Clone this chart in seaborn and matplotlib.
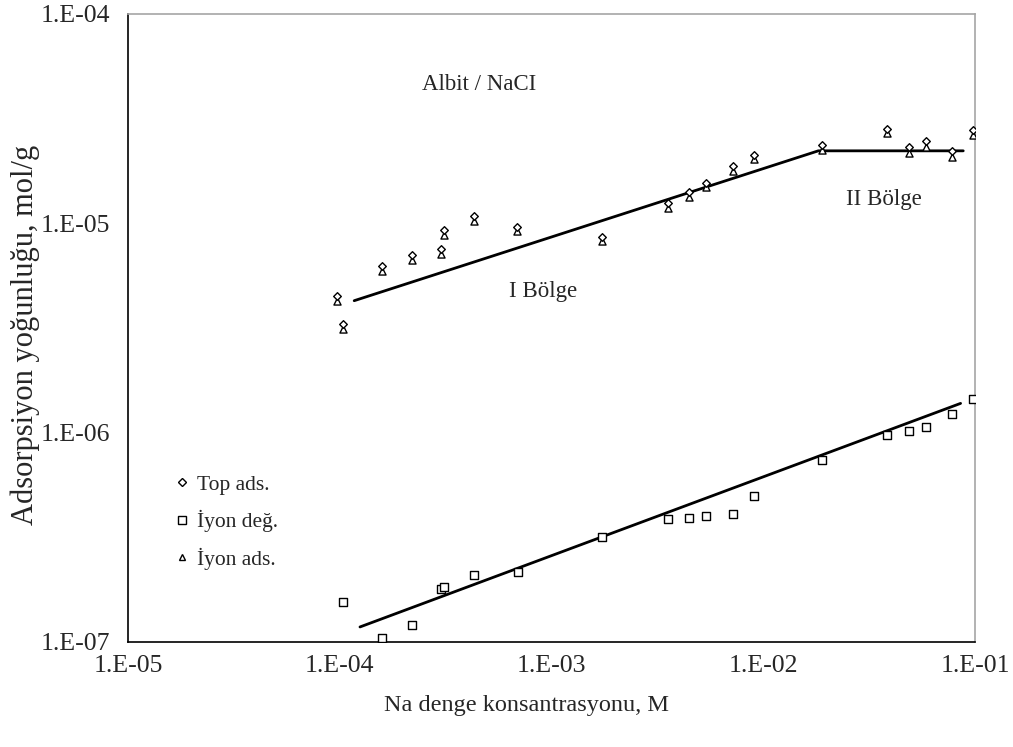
import numpy as np
import pandas as pd
import matplotlib
matplotlib.use("Agg")
import matplotlib.pyplot as plt
import seaborn as sns
from matplotlib.ticker import LogLocator, FuncFormatter, NullFormatter, FixedLocator
from matplotlib.lines import Line2D

# ---- data ----
conc_upper = [9.73e-5, 1.04e-4, 1.59e-4, 2.2e-4, 3.0e-4, 3.12e-4, 4.32e-4, 6.9e-4,
              1.73e-3, 3.55e-3, 4.46e-3, 5.37e-3, 7.2e-3, 9.04e-3, 1.9e-2,
              3.86e-2, 4.9e-2, 5.89e-2, 7.82e-2, 9.82e-2]
top_ads = [4.5e-6, 3.3e-6, 6.25e-6, 7.05e-6, 7.5e-6, 9.25e-6, 1.083e-5, 9.65e-6,
           8.63e-6, 1.255e-5, 1.41e-5, 1.56e-5, 1.875e-5, 2.13e-5, 2.36e-5,
           2.83e-5, 2.31e-5, 2.47e-5, 2.21e-5, 2.79e-5]
iyon_ads = [4.27e-6, 3.13e-6, 5.95e-6, 6.7e-6, 7.12e-6, 8.8e-6, 1.03e-5, 9.17e-6,
            8.2e-6, 1.19e-5, 1.34e-5, 1.485e-5, 1.78e-5, 2.03e-5, 2.24e-5,
            2.69e-5, 2.17e-5, 2.31e-5, 2.07e-5, 2.65e-5]
conc_lower = [1.04e-4, 1.59e-4, 2.2e-4, 3.0e-4, 3.12e-4, 4.32e-4, 6.92e-4,
              1.73e-3, 3.55e-3, 4.46e-3, 5.37e-3, 7.2e-3, 9.04e-3, 1.9e-2,
              3.86e-2, 4.9e-2, 5.89e-2, 7.82e-2, 9.82e-2]
iyon_deg = [1.545e-7, 1.047e-7, 1.21e-7, 1.79e-7, 1.84e-7, 2.09e-7, 2.15e-7,
            3.17e-7, 3.85e-7, 3.91e-7, 4.01e-7, 4.11e-7, 5.0e-7, 7.4e-7,
            9.7e-7, 1.02e-6, 1.06e-6, 1.23e-6, 1.45e-6]
# fitted lines
fit_upper_x = [1.17e-4, 1.82e-2, 8.8e-2]
fit_upper_y = [4.27e-6, 2.22e-5, 2.22e-5]
fit_lower_x = [1.246e-4, 8.55e-2]
fit_lower_y = [1.18e-7, 1.38e-6]

x_ticks = [1e-5, 1e-4, 1e-3, 1e-2, 1e-1]
y_ticks = [1e-7, 1e-6, 1e-5, 1e-4]

sns.set_style("white")
plt.rcParams['font.family'] = ['Liberation Serif', 'DejaVu Serif']

fig = plt.figure(figsize=(10.13, 7.47), dpi=100)
ax = fig.add_axes([128/1013, 105/747, (975-128)/1013, (642-14)/747])
ax.set_xscale('log')
ax.set_yscale('log')

df_up = pd.DataFrame({'x': conc_upper, 'top': top_ads, 'ion': iyon_ads})
df_lo = pd.DataFrame({'x': conc_lower, 'deg': iyon_deg})

sns.lineplot(x=fit_upper_x, y=fit_upper_y, ax=ax, color='black', lw=2.0, sort=False, estimator=None)
sns.lineplot(x=fit_lower_x, y=fit_lower_y, ax=ax, color='black', lw=2.0, sort=False, estimator=None)

sns.scatterplot(data=df_up, x='x', y='ion', ax=ax, marker='^', s=26,
                facecolor='white', edgecolor='black', linewidth=1.0, zorder=3)
sns.scatterplot(data=df_up, x='x', y='top', ax=ax, marker='D', s=15,
                facecolor='white', edgecolor='black', linewidth=1.0, zorder=4)
sns.scatterplot(data=df_lo, x='x', y='deg', ax=ax, marker='s', s=28,
                facecolor='white', edgecolor='black', linewidth=1.0, zorder=3)

ax.set_xlim(1e-5, 1e-1)
ax.set_ylim(1e-7, 1e-4)

fmt = FuncFormatter(lambda v, p: "1.E-%02d" % round(-np.log10(v)))
ax.xaxis.set_major_locator(FixedLocator(x_ticks))
ax.yaxis.set_major_locator(FixedLocator(y_ticks))
ax.xaxis.set_major_formatter(fmt)
ax.yaxis.set_major_formatter(fmt)
ax.xaxis.set_minor_locator(LogLocator(base=10, subs=np.arange(2, 10), numticks=20))
ax.yaxis.set_minor_locator(LogLocator(base=10, subs=np.arange(2, 10), numticks=20))
ax.xaxis.set_minor_formatter(NullFormatter())
ax.yaxis.set_minor_formatter(NullFormatter())
ax.tick_params(which='both', direction='in', length=6, width=1.0, color='black',
               top=False, right=False, labelsize=18.5)
ax.tick_params(axis='x', which='major', pad=9)
ax.tick_params(axis='y', which='major', pad=13)

for s in ['left', 'bottom']:
    ax.spines[s].set_color('black')
    ax.spines[s].set_linewidth(1.2)
for s in ['top', 'right']:
    ax.spines[s].set_color('#a6a6a6')
    ax.spines[s].set_linewidth(1.2)
    ax.spines[s].set_visible(True)

ax.set_xlabel('')
ax.set_ylabel('')
fig.text(25/1013, 1 - 335/747, 'Adsorpsiyon yoğunluğu, mol/g', fontsize=22,
         rotation=90, ha='center', va='center')
fig.text(527/1013, 1 - 706/747, 'Na denge konsantrasyonu, M', fontsize=17.5,
         ha='center', va='center')

fig.text(479/1013, 1 - 84/747, 'Albit / NaCI', fontsize=16.5, ha='center', va='center')
fig.text(543/1013, 1 - 292/747, 'I Bölge', fontsize=16.5, ha='center', va='center')
fig.text(884/1013, 1 - 200/747, 'II Bölge', fontsize=16.5, ha='center', va='center')

handles = [
    Line2D([], [], marker='D', ls='', markersize=4, markerfacecolor='white', markeredgecolor='black'),
    Line2D([], [], marker='s', ls='', markersize=6, markerfacecolor='white', markeredgecolor='black'),
    Line2D([], [], marker='^', ls='', markersize=5, markerfacecolor='white', markeredgecolor='black'),
]
labels = ['Top ads.', 'İyon değ.', 'İyon ads.']
leg = ax.legend(handles, labels, loc='upper left', bbox_to_anchor=(163/1013, 1 - 464/747),
                bbox_transform=fig.transFigure, frameon=False, fontsize=15.5,
                handlelength=0.8, handletextpad=0.3, labelspacing=0.71, borderpad=0)

fig.savefig('out.png', dpi=100, facecolor='white')
